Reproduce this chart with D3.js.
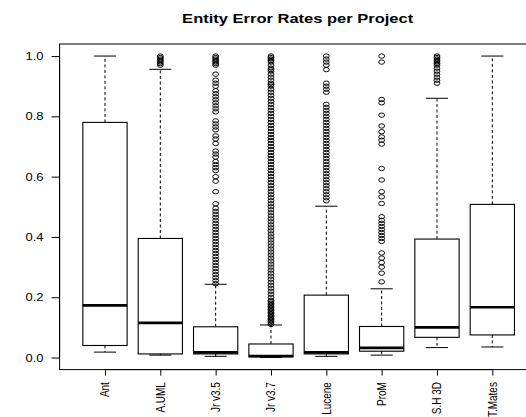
<!DOCTYPE html>
<html>
<head>
<meta charset="utf-8">
<script src="https://cdn.jsdelivr.net/npm/d3@7"></script>
<style>
  body { margin: 0; background: #fff; }
  svg { display: block; }
  text { font-family: "Liberation Sans", Arial, sans-serif; fill: #000; }
</style>
</head>
<body>
<div id="chart_container"></div>
<script>
// projects and five-number summaries
const projects = ["Ant", "A.UML", "Jr v3.5", "Jr v3.7", "Lucene", "ProM", "S.H 3D", "T.Mates"]
const whiskerLow  = [0.018, 0.008, 0.004, 0.000, 0.004, 0.008, 0.033, 0.035]
const q1          = [0.040, 0.012, 0.012, 0.002, 0.012, 0.021, 0.067, 0.075]
const median      = [0.173, 0.115, 0.017, 0.005, 0.017, 0.032, 0.100, 0.167]
const q3          = [0.780, 0.395, 0.102, 0.045, 0.207, 0.103, 0.393, 0.508]
const whiskerHigh = [1.000, 0.956, 0.243, 0.108, 0.502, 0.228, 0.860, 1.000]

// outliers per project
const outAnt = []
const outAUML = [1.0, 0.995, 0.99, 0.985, 0.98, 0.975, 0.97]
const outJr35 = [1.0, 0.995, 0.99, 0.985, 0.98, 0.975, 0.97, 0.94, 0.92, 0.91, 0.90,
    0.885, 0.875, 0.865, 0.855, 0.845, 0.835, 0.825, 0.815, 0.785, 0.775, 0.765, 0.755,
    0.735, 0.725, 0.71, 0.685, 0.675, 0.665, 0.65, 0.64, 0.63, 0.62, 0.60, 0.585, 0.55, 0.51,
    0.495, 0.485, 0.475, 0.465, 0.455, 0.445, 0.435, 0.425, 0.415, 0.405, 0.395, 0.385,
    0.375, 0.365, 0.355, 0.345, 0.335, 0.325, 0.315, 0.305, 0.295, 0.285, 0.275, 0.265,
    0.255, 0.245]
const outJr37 = [1.0, 0.995, 0.99, 0.985, 0.98, 0.97, 0.96, 0.955, 0.95, 0.94, 0.93, 0.92,
    0.91, 0.905, 0.9, 0.89, 0.88, 0.87, 0.86, 0.85, 0.84, 0.83, 0.82, 0.81, 0.8, 0.79, 0.78,
    0.77, 0.76, 0.75, 0.74, 0.73, 0.72, 0.71, 0.7, 0.69, 0.68, 0.67, 0.66, 0.65, 0.64, 0.63,
    0.62, 0.61, 0.6, 0.59, 0.58, 0.57, 0.56, 0.55, 0.54, 0.53, 0.52, 0.51, 0.5, 0.49, 0.48,
    0.47, 0.46, 0.45, 0.44, 0.43, 0.42, 0.41, 0.4, 0.39, 0.38, 0.37, 0.36, 0.35, 0.34, 0.33,
    0.32, 0.31, 0.3, 0.29, 0.28, 0.27, 0.26, 0.25, 0.24, 0.23, 0.22, 0.21, 0.2, 0.19, 0.185,
    0.18, 0.175, 0.17, 0.165, 0.16, 0.155, 0.15, 0.145, 0.14, 0.135, 0.13, 0.125, 0.12,
    0.115, 0.11]
const outLucene = [1.0, 0.99, 0.98, 0.97, 0.955, 0.91, 0.90, 0.89, 0.88, 0.84, 0.83, 0.82,
    0.81, 0.80, 0.79, 0.78, 0.77, 0.76, 0.75, 0.74, 0.73, 0.72, 0.71, 0.70, 0.69, 0.68, 0.67,
    0.66, 0.65, 0.64, 0.63, 0.62, 0.61, 0.60, 0.59, 0.58, 0.57, 0.56, 0.55, 0.54, 0.53, 0.52]
const outProM = [1.0, 0.98, 0.856, 0.845, 0.804, 0.768, 0.749, 0.732, 0.721, 0.708, 0.627,
    0.589, 0.55, 0.533, 0.511, 0.467, 0.455, 0.445, 0.435, 0.425, 0.415, 0.405, 0.395, 0.385,
    0.347, 0.33, 0.315, 0.3, 0.28, 0.251]
const outSH3D = [1.0, 0.995, 0.99, 0.985, 0.98, 0.975, 0.97, 0.96, 0.95, 0.94, 0.93, 0.92, 0.91]
const outTMates = []
const outliers = [outAnt, outAUML, outJr35, outJr37, outLucene, outProM, outSH3D, outTMates]

const yTicks = [0, 0.2, 0.4, 0.6, 0.8, 1.0]
const title = "Entity Error Rates per Project"

class RBoxplot {
    constructor() {
        this.width = 526
        this.height = 417
        this.sx = 1.3   // the picture is stretched sideways, text and circles follow it

        this._initSvg()
        this._initScales()
        this._drawFrame()
        this._drawBoxes()
        this._drawAxes()
    }

    _initSvg() {
        this.svg = d3.select("#chart_container")
            .append("svg")
            .attr("width", this.width)
            .attr("height", this.height)
    }

    _initScales() {
        // R style: xlim 0.5..n+0.5 and 4% extension on both axes
        this.x = d3.scaleLinear().domain([0.18, 8.82]).range([59.6, 537.7])
        this.y = d3.scaleLinear().domain([-0.04, 1.04]).range([369.6, 44])
        this.boxHalf = (this.x(1.4) - this.x(1))
        this.stapleHalf = this.boxHalf / 2
    }

    _drawFrame() {
        this.svg.append("rect")
            .attr("x", this.x(0.18)).attr("y", this.y(1.04))
            .attr("width", this.x(8.82) - this.x(0.18))
            .attr("height", this.y(-0.04) - this.y(1.04))
            .attr("fill", "none").attr("stroke", "#000").attr("stroke-width", 1)

        this.svg.append("text")
            .attr("transform", `translate(${this.x(4.5) - 1},23) scale(${this.sx},1)`)
            .attr("text-anchor", "middle")
            .style("font-weight", "bold")
            .style("font-size", "12.7px")
            .text(title)
    }

    _drawBoxes() {
        const g = this.svg.append("g")
        const x = this.x, y = this.y
        projects.forEach((p, i) => {
            const cx = x(i + 1)
            // whiskers
            g.append("line").attr("x1", cx).attr("x2", cx)
                .attr("y1", y(q3[i])).attr("y2", y(whiskerHigh[i]))
                .attr("stroke", "#000").attr("stroke-dasharray", "3,2.5")
            g.append("line").attr("x1", cx).attr("x2", cx)
                .attr("y1", y(q1[i])).attr("y2", y(whiskerLow[i]))
                .attr("stroke", "#000").attr("stroke-dasharray", "3,2.5")
            // staples
            ;[whiskerHigh[i], whiskerLow[i]].forEach(v => {
                g.append("line")
                    .attr("x1", cx - this.stapleHalf).attr("x2", cx + this.stapleHalf)
                    .attr("y1", y(v)).attr("y2", y(v))
                    .attr("stroke", "#000").attr("stroke-width", 1)
            })
            // box
            g.append("rect")
                .attr("x", cx - this.boxHalf).attr("y", y(q3[i]))
                .attr("width", this.boxHalf * 2).attr("height", y(q1[i]) - y(q3[i]))
                .attr("fill", "#fff").attr("stroke", "#000").attr("stroke-width", 1.1)
            // median
            g.append("line")
                .attr("x1", cx - this.boxHalf).attr("x2", cx + this.boxHalf)
                .attr("y1", y(median[i])).attr("y2", y(median[i]))
                .attr("stroke", "#000").attr("stroke-width", 2.6)
            // outliers
            g.selectAll(null)
                .data(outliers[i])
                .enter().append("ellipse")
                .attr("cx", cx).attr("cy", d => y(d))
                .attr("rx", 2.9).attr("ry", 2.2)
                .attr("fill", "none").attr("stroke", "#000").attr("stroke-width", 0.95)
        })
    }

    _drawAxes() {
        const yAxis = d3.axisLeft(this.y)
            .tickValues(yTicks)
            .tickFormat(d3.format(".1f"))
            .tickSize(8)
            .tickPadding(0)
        const ya = this.svg.append("g")
            .attr("transform", `translate(${this.x(0.18)},0)`)
            .call(yAxis)
        ya.select(".domain").attr("d", `M0,${this.y(0)}V${this.y(1)}`).attr("stroke", "#000")
        ya.selectAll(".tick line").attr("stroke", "#000")
        ya.selectAll(".tick text")
            .attr("x", null).attr("dy", null)
            .attr("transform", `translate(-16,3.5) scale(${this.sx},1)`)
            .attr("text-anchor", "end")
            .style("font-size", "10px")
            .attr("fill", "#000")

        const xAxis = d3.axisBottom(this.x)
            .tickValues(d3.range(1, projects.length + 1))
            .tickFormat(d => projects[d - 1])
            .tickSize(6)
        const xa = this.svg.append("g")
            .attr("transform", `translate(0,${this.y(-0.04)})`)
            .call(xAxis)
        xa.select(".domain").attr("d", `M${this.x(1)},0H${this.x(8)}`).attr("stroke", "#000")
        xa.selectAll(".tick line").attr("stroke", "#000")
        xa.selectAll(".tick text")
            .attr("y", null).attr("dy", null)
            .attr("transform", `translate(4,12.5) scale(1.25,1) rotate(-90)`)
            .attr("text-anchor", "end")
            .style("font-size", "10px")
            .attr("fill", "#000")
    }
}

new RBoxplot()
</script>
</body>
</html>
